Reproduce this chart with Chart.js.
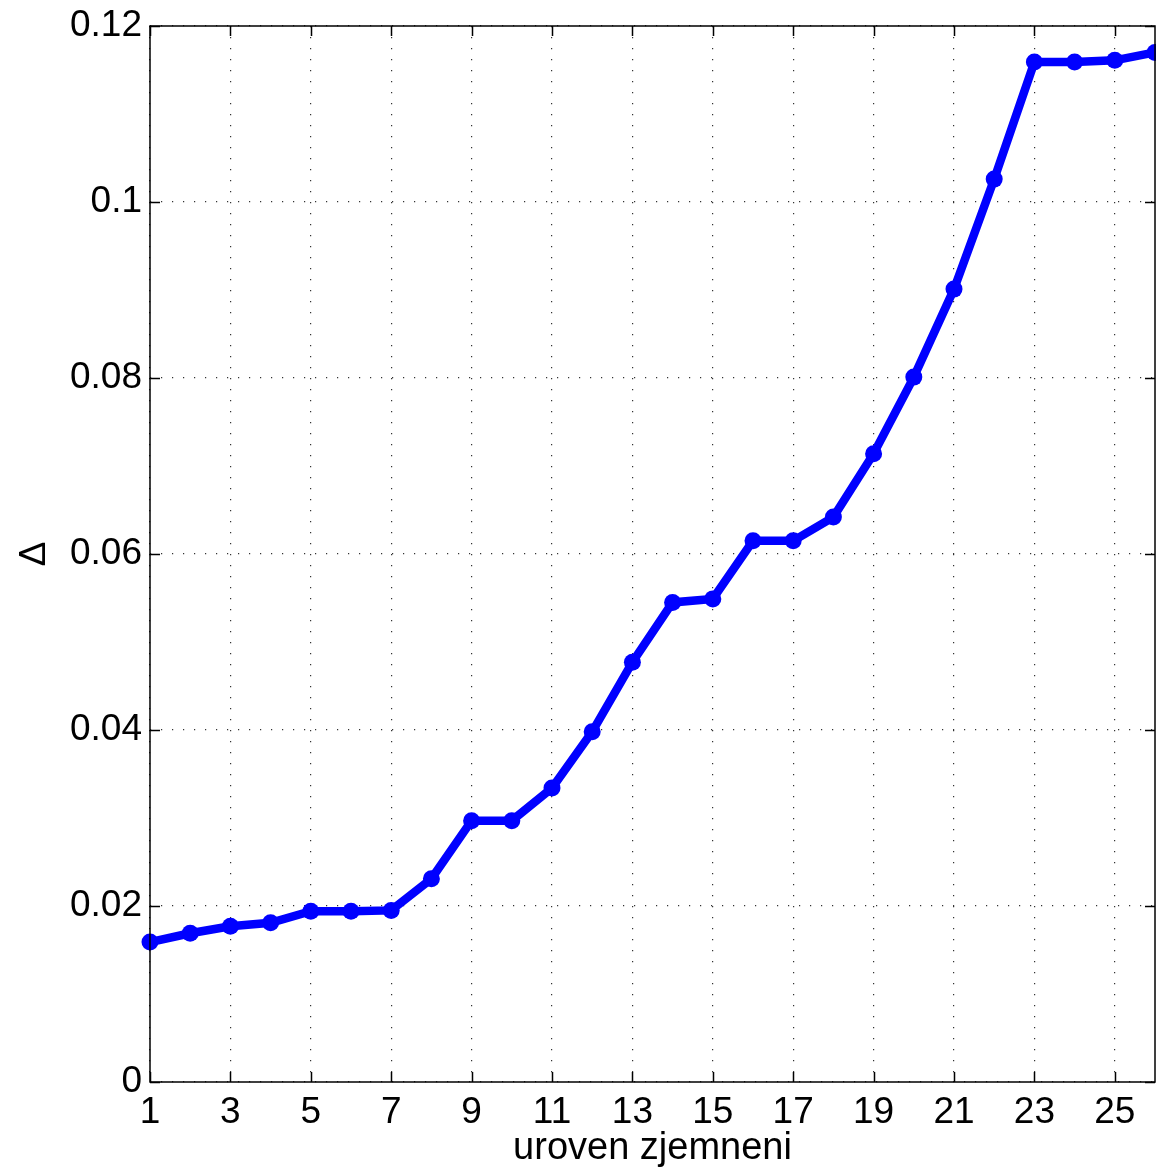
<!DOCTYPE html>
<html>
<head>
<meta charset="utf-8">
<script src="https://cdn.jsdelivr.net/npm/chart.js@4.4.0/dist/chart.umd.min.js"></script>
<style>
  html, body { margin: 0; padding: 0; background: #fff; }
  #wrap { width: 1156px; height: 1171px; }
</style>
</head>
<body>
<div id="wrap"><canvas id="chart" width="1156" height="1171"></canvas></div>
<script>
// data
var levels = [1, 2, 3, 4, 5, 6, 7, 8, 9, 10, 11, 12, 13, 14, 15, 16, 17, 18, 19, 20, 21, 22, 23, 24, 25, 26];
var delta = [0.0159, 0.0169, 0.0177, 0.0181, 0.0194, 0.0194, 0.0195, 0.0231, 0.0297, 0.0297,
             0.0334, 0.0398, 0.0477, 0.0545, 0.0549, 0.0615, 0.0615, 0.0642, 0.0714, 0.0801,
             0.0901, 0.1026, 0.1159, 0.1159, 0.1161, 0.1170];
var xTicks = [1, 3, 5, 7, 9, 11, 13, 15, 17, 19, 21, 23, 25];
var yTicks = [0, 0.02, 0.04, 0.06, 0.08, 0.1, 0.12];

var points = levels.map(function (x, i) { return { x: x, y: delta[i] }; });

var fontFam = "'Liberation Sans', Arial, sans-serif";

// box round the plot + inner tick marks (matlab style)
var boxPlugin = {
  id: "box",
  afterDatasetsDraw: function (chart) {
    var c = chart.ctx, a = chart.chartArea;
    var sx = chart.scales.x, sy = chart.scales.y;
    c.save();
    c.strokeStyle = "#000";
    c.lineWidth = 1.5;
    c.beginPath();
    xTicks.forEach(function (t) {
      var px = Math.round(sx.getPixelForValue(t)) + 0.5;
      c.moveTo(px, a.bottom); c.lineTo(px, a.bottom - 10);
      c.moveTo(px, a.top); c.lineTo(px, a.top + 10);
    });
    yTicks.forEach(function (t) {
      var py = Math.round(sy.getPixelForValue(t)) + 0.5;
      c.moveTo(a.left, py); c.lineTo(a.left + 10, py);
      c.moveTo(a.right, py); c.lineTo(a.right - 10, py);
    });
    c.stroke();
    c.strokeRect(a.left, a.top, a.right - a.left, a.bottom - a.top);
    c.restore();
  }
};

var ctx = document.getElementById("chart").getContext("2d");
var chart = new Chart(ctx, {
  type: "line",
  data: {
    datasets: [{
      data: points,
      borderColor: "#0000ff",
      backgroundColor: "#0000ff",
      borderWidth: 8.5,
      pointRadius: 8.5,
      pointStyle: "circle",
      pointBorderWidth: 0,
      tension: 0,
      clip: 10
    }]
  },
  options: {
    responsive: false,
    animation: false,
    layout: { autoPadding: false, padding: { left: 0, right: 1, top: 26, bottom: 0 } },
    plugins: {
      legend: { display: false },
      tooltip: { enabled: false }
    },
    scales: {
      x: {
        type: "linear",
        min: 1,
        max: 26,
        afterBuildTicks: function (s) { s.ticks = xTicks.map(function (v) { return { value: v }; }); },
        afterFit: function (s) { s.height = 89; },
        grid: {
          color: "#333",
          lineWidth: 1.2,
          drawTicks: false
        },
        border: { display: false, dash: [1.2, 9.8] },
        ticks: {
          color: "#000",
          padding: 9,
          maxRotation: 0,
          autoSkip: false,
          font: { family: fontFam, size: 37 }
        },
        title: {
          display: true,
          text: "uroven zjemneni",
          color: "#000",
          padding: { top: 0, bottom: 0 },
          font: { family: fontFam, size: 38 }
        }
      },
      y: {
        min: 0,
        max: 0.12,
        afterBuildTicks: function (s) { s.ticks = yTicks.map(function (v) { return { value: v }; }); },
        afterFit: function (s) { s.width = 150; },
        grid: {
          color: "#333",
          lineWidth: 1.2,
          drawTicks: false
        },
        border: { display: false, dash: [1.2, 9.8] },
        ticks: {
          color: "#000",
          padding: 8,
          autoSkip: false,
          font: { family: fontFam, size: 37, lineHeight: 0.9 },
          callback: function (v) { return String(Math.round(v * 100) / 100); }
        },
        title: {
          display: true,
          text: "Δ",
          color: "#000",
          padding: { top: 13, bottom: 0 },
          font: { family: fontFam, size: 37 }
        }
      }
    }
  },
  plugins: [boxPlugin]
});
</script>
</body>
</html>
